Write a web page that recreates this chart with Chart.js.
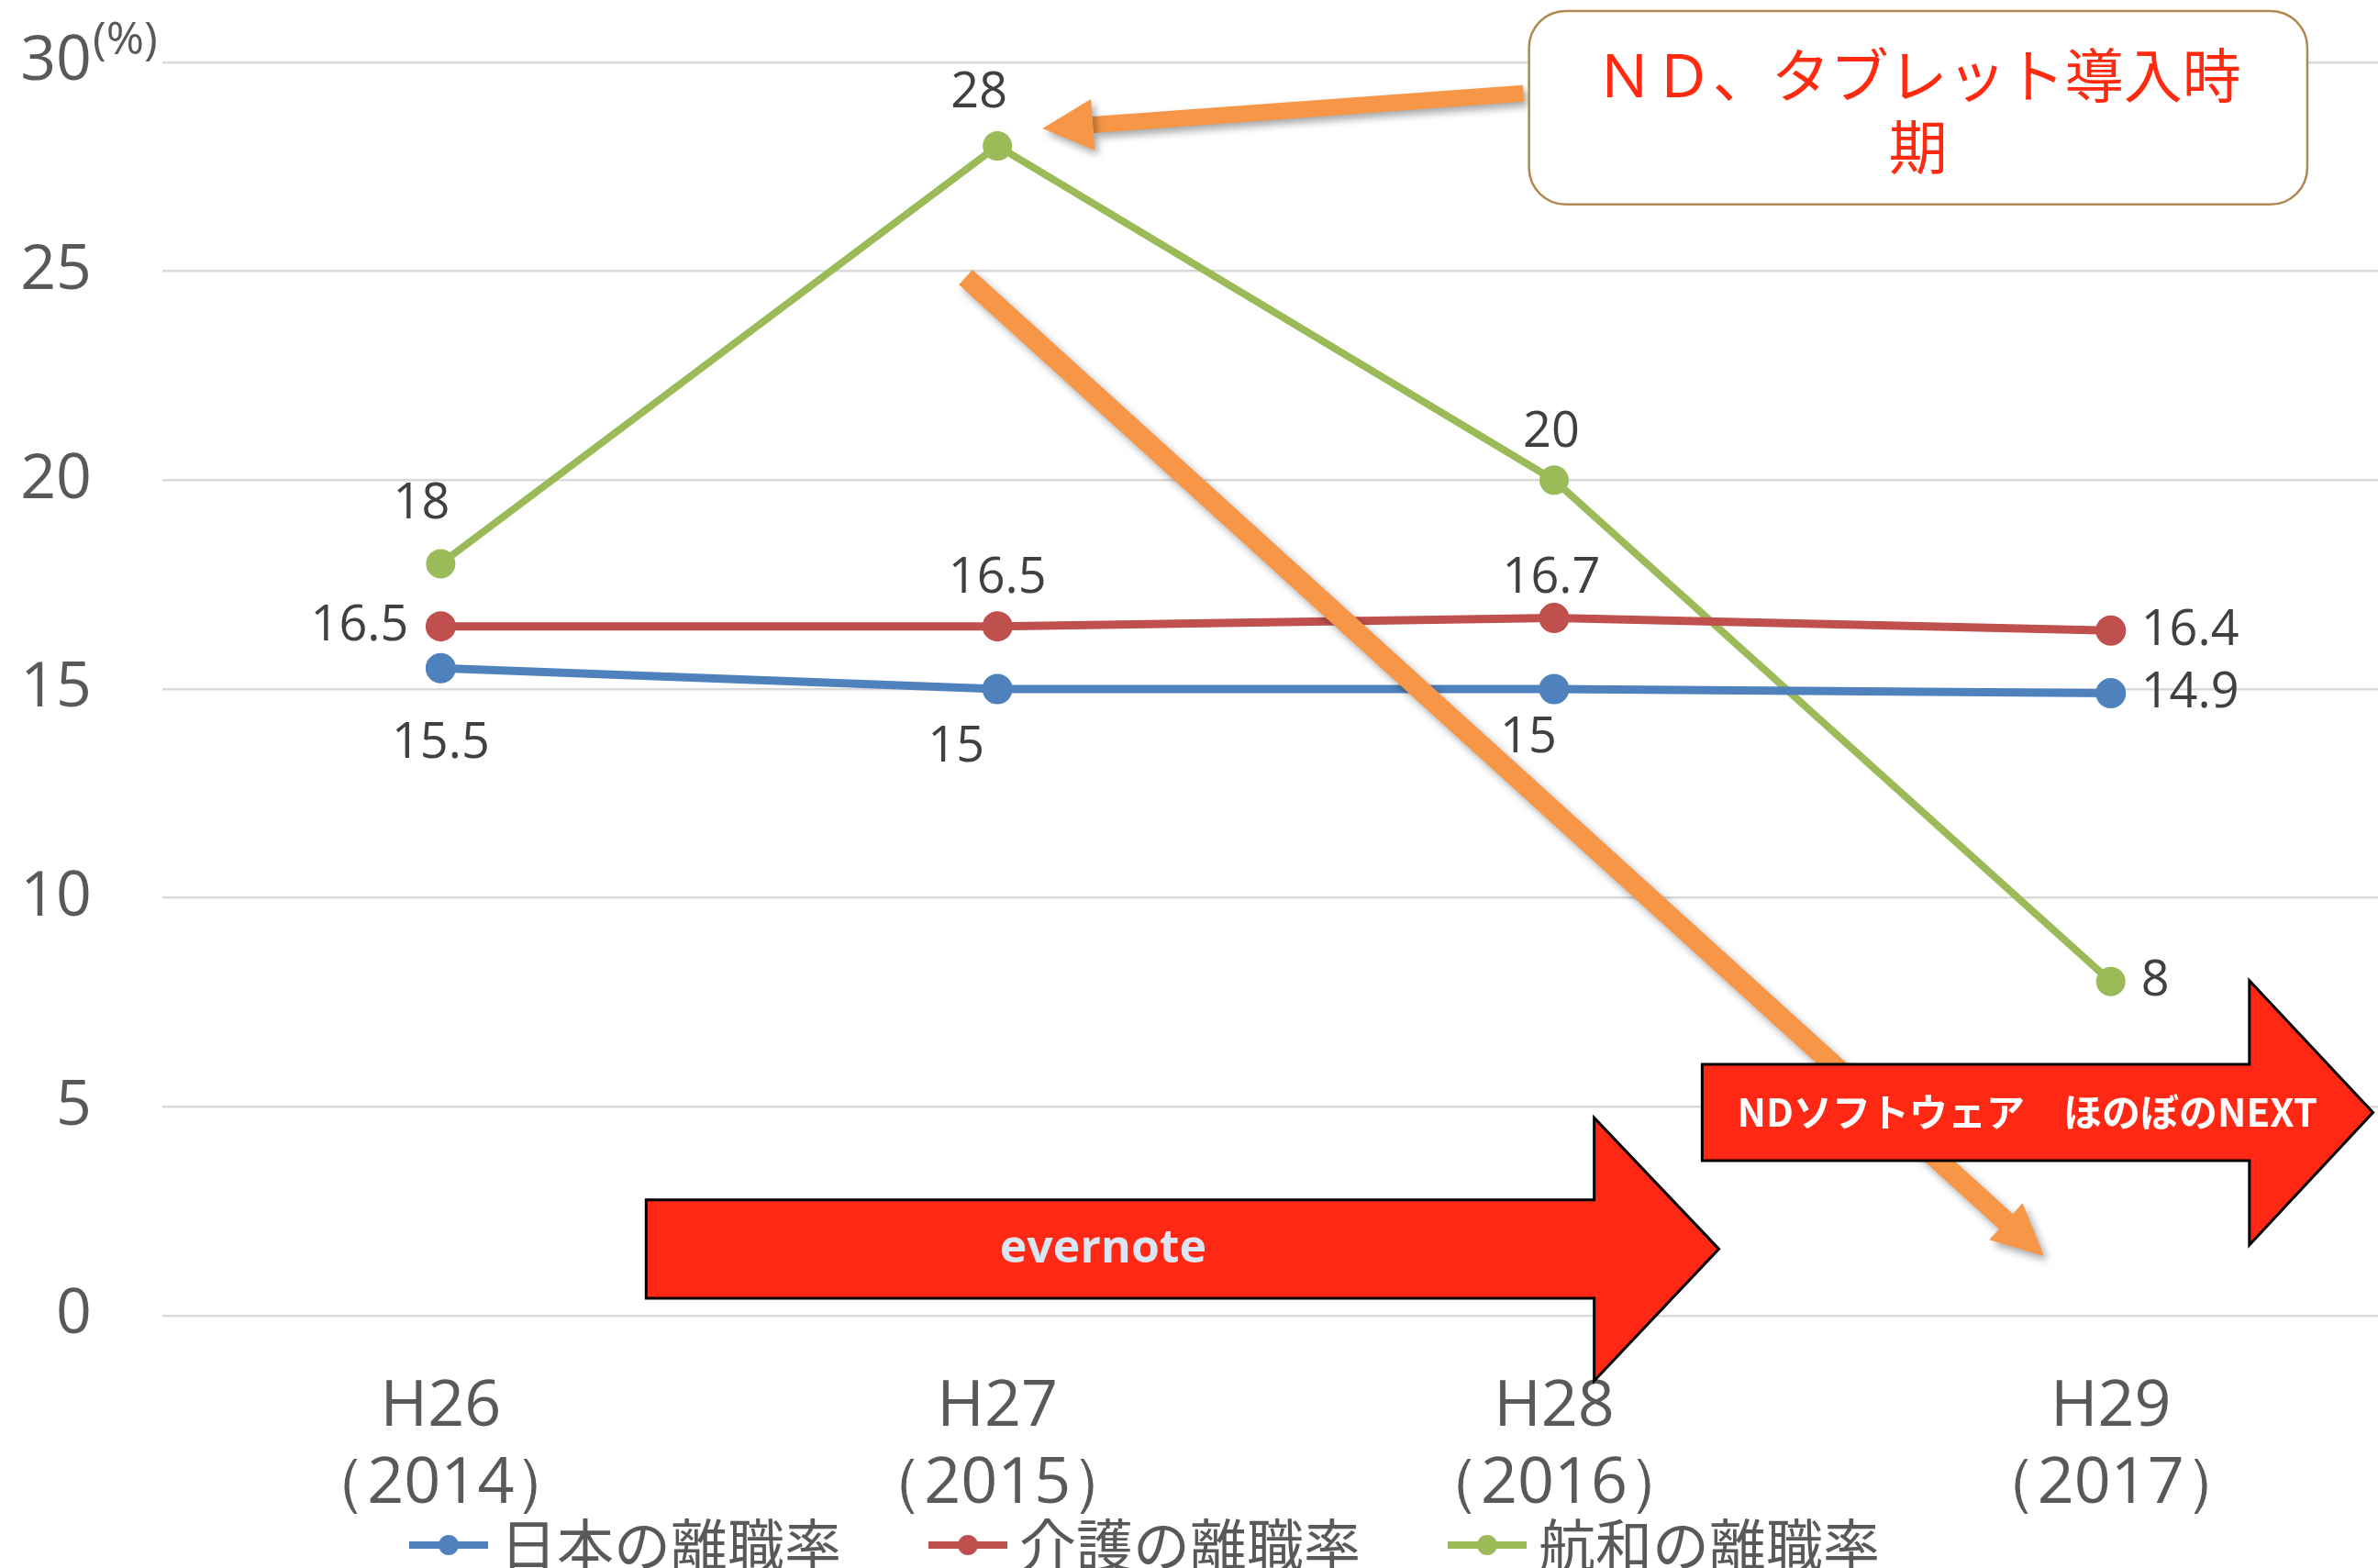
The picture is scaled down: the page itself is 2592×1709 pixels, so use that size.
<!DOCTYPE html>
<html>
<head>
<meta charset="utf-8">
<script src="https://cdn.jsdelivr.net/npm/chart.js@4.4.1/dist/chart.umd.min.js"></script>
<style>
  html, body { margin: 0; padding: 0; background: #fff; overflow: hidden; }
  #wrap { width: 2592px; height: 1709px; position: relative; }
</style>
</head>
<body>
<div id="wrap"><canvas id="turnoverChart"></canvas></div>
<script>
// data
const years = ['H26', 'H27', 'H28', 'H29'];
const westernYears = ['（2014）', '（2015）', '（2016）', '（2017）'];
const japanRate = [15.5, 15, 15, 14.9];
const careRate = [16.5, 16.5, 16.7, 16.4];
const kowaRate = [18, 28, 20, 8];
const seriesNames = ['日本の離職率', '介護の離職率', '航和の離職率'];
const yTicks = [0, 5, 10, 15, 20, 25, 30];

const colors = ['#4F81BD', '#C0504D', '#9BBB59'];
const latin = '"Open Sans", "Noto Sans", sans-serif';
const cjk = '"Noto Sans CJK JP", "Noto Sans", sans-serif';

// where each value label sits relative to its point: [dx, dy, align]
const labelPos = [
  [[0, 82, 'center'], [-45, 64, 'center'], [-28, 54, 'center'], [33, 0, 'left']],
  [[-35, 0, 'right'], [0, -52, 'center'], [-3, -43, 'center'], [33, 0, 'left']],
  [[-21, -65, 'center'], [-20, -57, 'center'], [-3, -52, 'center'], [33, 0, 'left']]
];

const toPoints = arr => arr.map((v, i) => ({ x: i, y: v }));

function drawArrow(ctx, x0, y0, x1, y1, w, len, half, color) {
  const a = Math.atan2(y1 - y0, x1 - x0);
  const bx = x1 - len * Math.cos(a), by = y1 - len * Math.sin(a);
  ctx.save();
  ctx.shadowColor = 'rgba(0,0,0,0.35)';
  ctx.shadowBlur = 8;
  ctx.shadowOffsetX = 4;
  ctx.shadowOffsetY = 5;
  ctx.strokeStyle = color;
  ctx.lineWidth = w;
  ctx.beginPath();
  ctx.moveTo(x0, y0);
  ctx.lineTo(bx, by);
  ctx.stroke();
  ctx.fillStyle = color;
  ctx.beginPath();
  ctx.moveTo(x1, y1);
  ctx.lineTo(bx + half * Math.sin(a), by - half * Math.cos(a));
  ctx.lineTo(bx - half * Math.sin(a), by + half * Math.cos(a));
  ctx.closePath();
  ctx.fill();
  ctx.restore();
}

// block arrow in value space: left, shaftEnd, tip, top, bottom, headTop, headBottom
function drawBlock(ctx, sx, sy, b, text, font, textColor) {
  const l = sx(b.left), e = sx(b.shaftEnd), t = sx(b.tip);
  const top = sy(b.top), bot = sy(b.bottom);
  const ht = sy(b.headTop), hb = sy(b.headBottom);
  const mid = (top + bot) / 2;
  ctx.save();
  ctx.beginPath();
  ctx.moveTo(l, top);
  ctx.lineTo(e, top);
  ctx.lineTo(e, ht);
  ctx.lineTo(t, mid);
  ctx.lineTo(e, hb);
  ctx.lineTo(e, bot);
  ctx.lineTo(l, bot);
  ctx.closePath();
  ctx.fillStyle = '#FE2814';
  ctx.fill();
  ctx.lineWidth = 3;
  ctx.strokeStyle = '#000';
  ctx.stroke();
  ctx.fillStyle = textColor;
  ctx.font = font;
  ctx.textAlign = 'center';
  ctx.textBaseline = 'middle';
  ctx.fillText(text, sx(b.textX), mid);
  ctx.restore();
}

function legendMarker(ctx, x, y, color, lw) {
  ctx.strokeStyle = color;
  ctx.lineWidth = lw;
  ctx.beginPath();
  ctx.moveTo(x, y);
  ctx.lineTo(x + 86, y);
  ctx.stroke();
  ctx.fillStyle = color;
  ctx.beginPath();
  ctx.arc(x + 43, y, 11, 0, Math.PI * 2);
  ctx.fill();
}

const valueLabels = {
  id: 'valueLabels',
  afterDatasetsDraw(chart) {
    const ctx = chart.ctx;
    ctx.save();
    ctx.font = '54px ' + latin;
    ctx.fillStyle = '#404040';
    ctx.textBaseline = 'middle';
    chart.data.datasets.forEach((ds, i) => {
      chart.getDatasetMeta(i).data.forEach((pt, j) => {
        const [dx, dy, align] = labelPos[i][j];
        ctx.textAlign = align;
        ctx.fillText(String(ds.data[j].y), pt.x + dx, pt.y + dy);
      });
    });
    ctx.restore();
  }
};

const overlays = {
  id: 'overlays',
  afterDraw(chart) {
    const ctx = chart.ctx;
    const sx = v => chart.scales.x.getPixelForValue(v);
    const sy = v => chart.scales.y.getPixelForValue(v);

    // unit mark
    ctx.save();
    ctx.font = '50px ' + latin;
    ctx.fillStyle = '#595959';
    ctx.textAlign = 'left';
    ctx.textBaseline = 'middle';
    ctx.fillText('(%)', 101, 45);
    ctx.restore();

    // orange arrows
    drawArrow(ctx, sx(1.945), sy(29.26), sx(1.081), sy(28.42), 18, 55, 28, '#F79646');
    drawArrow(ctx, sx(0.943), sy(24.86), sx(2.88), sy(1.43), 22, 56, 27, '#F79646');

    // red block arrows
    drawBlock(ctx, sx, sy, {
      left: 0.369, shaftEnd: 2.072, tip: 2.296,
      top: 2.77, bottom: 0.42, headTop: 4.74, headBottom: -1.56, textX: 1.19
    }, 'evernote', 'bold 50px ' + latin, '#DCE6F2');
    drawBlock(ctx, sx, sy, {
      left: 2.266, shaftEnd: 3.249, tip: 3.471,
      top: 6.02, bottom: 3.71, headTop: 8.02, headBottom: 1.69, textX: 2.85
    }, 'NDソフトウェア　ほのぼのNEXT', 'bold 42px ' + cjk, '#FFFFFF');

    // callout box
    const bl = sx(1.955), br = sx(3.353), bt = sy(31.23), bb = sy(26.6);
    ctx.save();
    ctx.beginPath();
    ctx.roundRect(bl, bt, br - bl, bb - bt, 40);
    ctx.fillStyle = '#fff';
    ctx.fill();
    ctx.lineWidth = 2.5;
    ctx.strokeStyle = '#B08850';
    ctx.stroke();
    ctx.fillStyle = '#FF2A10';
    ctx.font = '64px ' + cjk;
    ctx.textAlign = 'center';
    ctx.textBaseline = 'middle';
    ctx.fillText('ＮＤ、タブレット導入時', (bl + br) / 2, sy(29.7));
    ctx.fillText('期', (bl + br) / 2, sy(27.98));
    ctx.restore();

    // legend
    ctx.save();
    ctx.font = '62px ' + cjk;
    ctx.textBaseline = 'middle';
    ctx.textAlign = 'left';
    let x = 446;
    const y = 1684;
    seriesNames.forEach((name, i) => {
      legendMarker(ctx, x, y, colors[i], 8);
      ctx.fillStyle = '#595959';
      ctx.fillText(name, x + 99, y);
      x += 99 + ctx.measureText(name).width + 95;
    });
    ctx.restore();
  }
};

const ctx = document.getElementById('turnoverChart').getContext('2d');
new Chart(ctx, {
  type: 'line',
  data: {
    datasets: [
      { label: seriesNames[0], data: toPoints(japanRate), borderColor: colors[0], backgroundColor: colors[0], borderWidth: 9, pointRadius: 12 },
      { label: seriesNames[1], data: toPoints(careRate), borderColor: colors[1], backgroundColor: colors[1], borderWidth: 9, pointRadius: 12 },
      { label: seriesNames[2], data: toPoints(kowaRate), borderColor: colors[2], backgroundColor: colors[2], borderWidth: 8, pointRadius: 12 }
    ]
  },
  options: {
    responsive: true,
    maintainAspectRatio: false,
    animation: false,
    layout: { autoPadding: false, padding: { top: 68, left: 0, right: 0, bottom: 0 } },
    elements: { line: { tension: 0 }, point: { borderWidth: 0 } },
    plugins: {
      legend: { display: false },
      tooltip: { enabled: false }
    },
    scales: {
      x: {
        type: 'linear',
        min: -0.5,
        max: 3.48,
        afterBuildTicks: axis => { axis.ticks = years.map((_, i) => ({ value: i })); },
        afterFit: axis => {
          axis.height = 275;
          axis.paddingLeft = 0;
          axis.paddingRight = 0;
        },
        grid: { display: false },
        border: { display: false },
        ticks: {
          padding: 50,
          color: '#595959',
          font: { family: latin, size: 70, lineHeight: 1.2 },
          maxRotation: 0,
          callback: v => [years[v], westernYears[v]]
        }
      },
      y: {
        min: 0,
        max: 30,
        afterBuildTicks: axis => { axis.ticks = yTicks.map(v => ({ value: v })); },
        afterFit: axis => { axis.width = 177; },
        grid: { color: '#D9D9D9', lineWidth: 2.5, drawTicks: true, tickLength: 77, tickColor: 'rgba(0,0,0,0)' },
        border: { display: false },
        ticks: {
          padding: 0,
          color: '#595959',
          font: { family: latin, size: 68 }
        }
      }
    }
  },
  plugins: [valueLabels, overlays]
});
</script>
</body>
</html>
